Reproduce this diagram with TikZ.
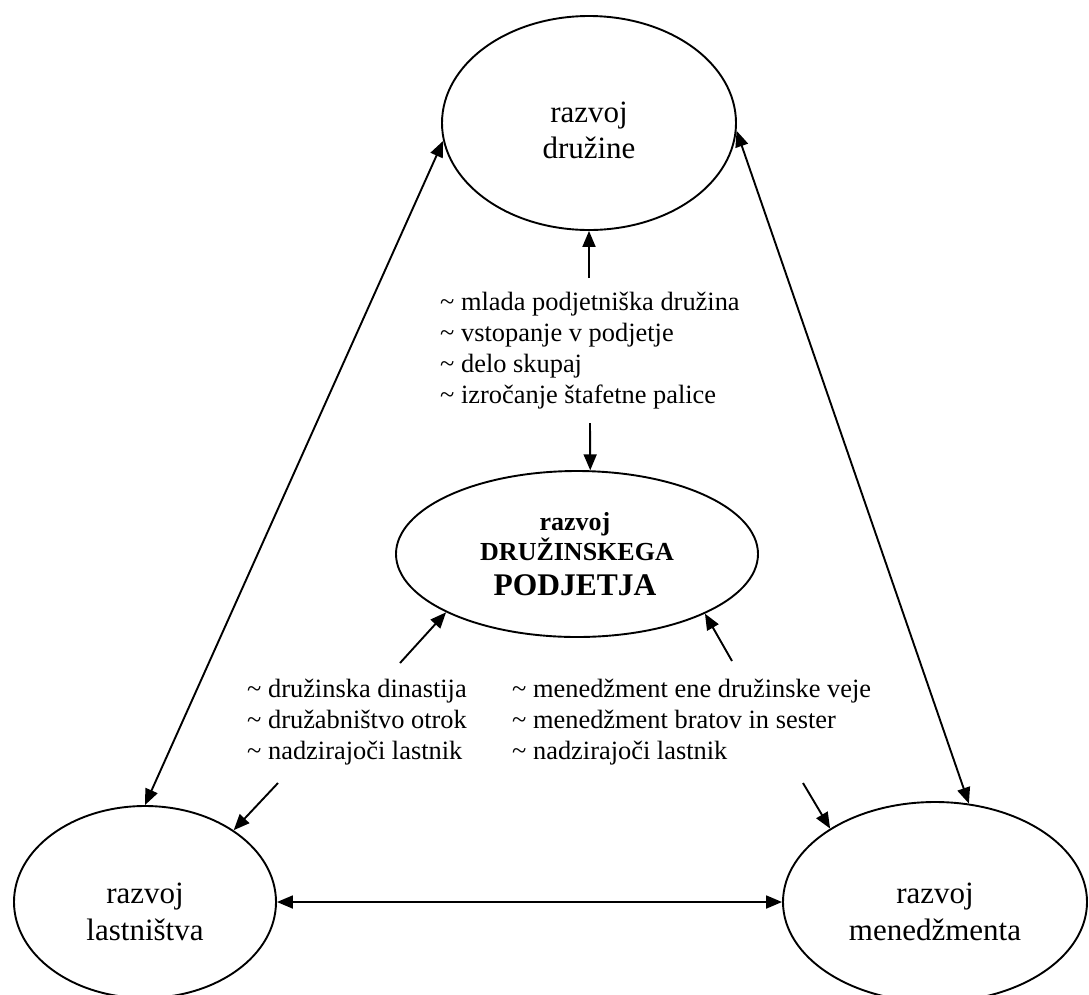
\documentclass[tikz,border=0pt]{standalone}
\usepackage{fontspec}
\setmainfont{Liberation Serif}
\usetikzlibrary{shapes.geometric,arrows.meta}
\tikzset{
  bubble/.style={draw, ellipse, line width=1.9pt, inner sep=0pt},
  conn/.style={line width=1.9pt, -{Triangle[length=16pt,width=13pt]}},
  biconn/.style={line width=1.9pt, {Triangle[length=16pt,width=13pt]}-{Triangle[length=16pt,width=13pt]}},
  big/.style={font=\fontsize{31}{36}\selectfont, anchor=base, inner sep=0pt},
  midsmall/.style={font=\bfseries\fontsize{26}{30}\selectfont, anchor=base, inner sep=0pt},
  midlarge/.style={font=\bfseries\fontsize{31.5}{36}\selectfont, anchor=base, inner sep=0pt},
  listtext/.style={font=\fontsize{26.4}{31}\selectfont, align=left, anchor=north west, inner sep=0pt}
}
\begin{document}
\begin{tikzpicture}[x=1pt,y=-1pt]
\useasboundingbox (0,0) rectangle (1089,994);
% ellipses
\node[bubble, minimum width=294pt, minimum height=214pt] (top) at (589,123) {};
\node[bubble, minimum width=362pt, minimum height=166pt] (mid) at (577,554) {};
\node[bubble, minimum width=262pt, minimum height=192pt] (bl) at (145,902) {};
\node[bubble, minimum width=304pt, minimum height=200pt] (br) at (935,902) {};
% ellipse labels
\node[big] (t1) at (589,122) {razvoj};
\node[big] (t2) at (589,158) {družine};
\node[midsmall] (m1) at (575,530) {razvoj};
\node[midsmall] (m2) at (577,560) {DRUŽINSKEGA};
\node[midlarge] (m3) at (575,595) {PODJETJA};
\node[big] (l1) at (145,903) {razvoj};
\node[big] (l2) at (145,940) {lastništva};
\node[big] (r1) at (935,903) {razvoj};
\node[big] (r2) at (935,940) {menedžmenta};
% lists
\node[listtext] (famlist) at (440,292) {\textasciitilde{} mlada podjetniška družina\\\textasciitilde{} vstopanje v podjetje\\\textasciitilde{} delo skupaj\\\textasciitilde{} izročanje štafetne palice};
\node[listtext] (ownlist) at (247,679) {\textasciitilde{} družinska dinastija\\\textasciitilde{} družabništvo otrok\\\textasciitilde{} nadzirajoči lastnik};
\node[listtext] (mgmtlist) at (512,679) {\textasciitilde{} menedžment ene družinske veje\\\textasciitilde{} menedžment bratov in sester\\\textasciitilde{} nadzirajoči lastnik};
% free ends
\coordinate (c1) at (589,278);
\coordinate (c2) at (590,423);
\coordinate (c3) at (400,663);
\coordinate (c4) at (732,661);
\coordinate (c5) at (278,783);
\coordinate (c6) at (803,783);
% connectors
\draw[biconn] (top.187) -- (bl.90);
\draw[biconn] (top.-3.5) -- (br.71);
\draw[biconn] (bl.0) -- (br.180);
\draw[conn] (c1) -- (top.270);
\draw[conn] (c2) -- (mid.81);
\draw[conn] (c3) -- (mid.204.9);
\draw[conn] (c4) -- (mid.-25.5);
\draw[conn] (c5) -- (bl.39.6);
\draw[conn] (c6) -- (br.145.3);
\end{tikzpicture}
\end{document}
